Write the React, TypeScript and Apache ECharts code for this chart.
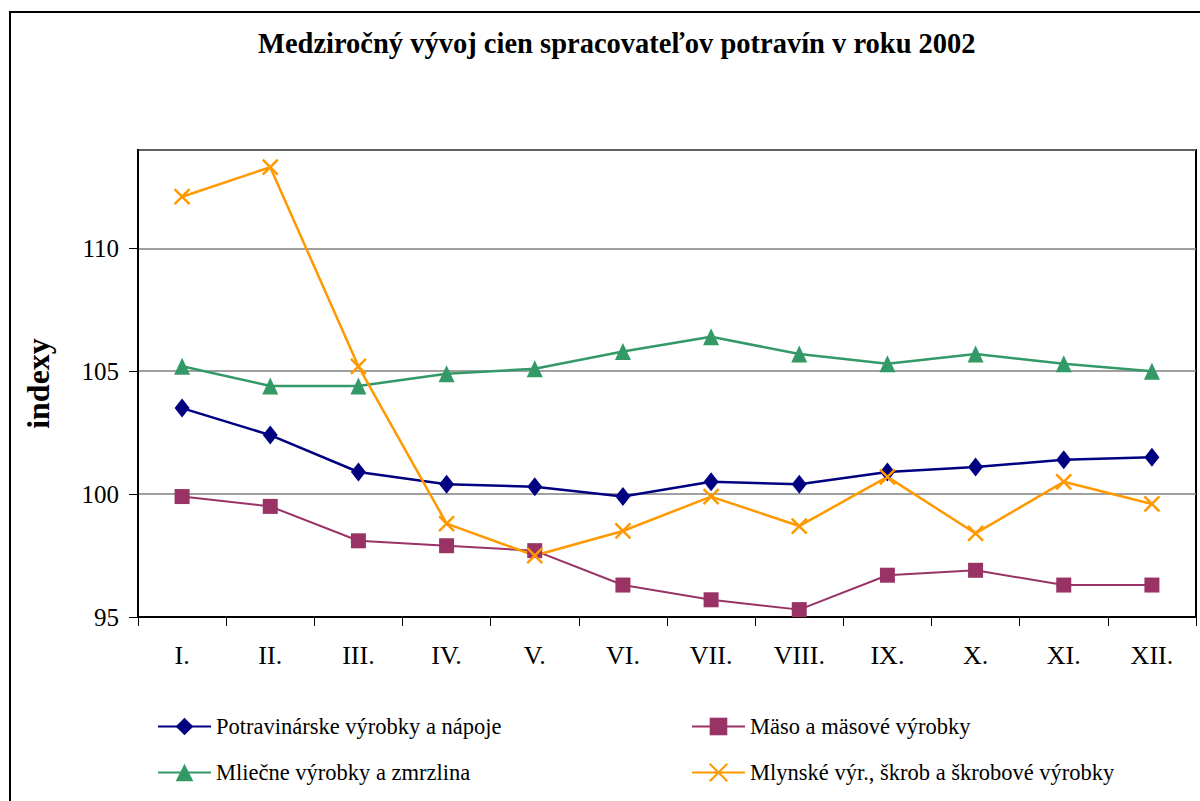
import React, { useEffect, useRef } from "react";
import * as echarts from "echarts";

const title = "Medziročný vývoj cien spracovateľov potravín v roku 2002";
const yAxisName = "indexy";
const months = ["I.", "II.", "III.", "IV.", "V.", "VI.", "VII.", "VIII.", "IX.", "X.", "XI.", "XII."];

const seriesNames = [
  "Potravinárske výrobky a nápoje",
  "Mäso a mäsové výrobky",
  "Mliečne výrobky a zmrzlina",
  "Mlynské výr., škrob a škrobové výrobky",
];

const potravinarske = [103.5, 102.4, 100.9, 100.4, 100.3, 99.9, 100.5, 100.4, 100.9, 101.1, 101.4, 101.5];
const maso = [99.9, 99.5, 98.1, 97.9, 97.7, 96.3, 95.7, 95.3, 96.7, 96.9, 96.3, 96.3];
const mliecne = [105.2, 104.4, 104.4, 104.9, 105.1, 105.8, 106.4, 105.7, 105.3, 105.7, 105.3, 105.0];
const mlynske = [112.1, 113.3, 105.2, 98.8, 97.5, 98.5, 99.9, 98.7, 100.7, 98.4, 100.5, 99.6];

const yMin = 95;
const yMax = 114;
const yInterval = 5;

const FONT = "Liberation Serif";
const colors = ["#000080", "#993366", "#339966", "#FF9900"];

export default function App() {
  const ref = useRef<HTMLDivElement>(null);

  useEffect(() => {
    document.body.style.margin = "0";
    const chart = echarts.init(ref.current!, null, { renderer: "svg" });
    const xSymbol = "path://M0,0L10,10M10,0L0,10";

    const mk = (name: string, data: number[], color: string, symbol: string, size: any, lw: number, extra: any = {}) => ({
      name,
      type: "line",
      data,
      symbol,
      symbolSize: size,
      showSymbol: true,
      lineStyle: { color, width: lw },
      itemStyle: { color, borderColor: color, borderWidth: 0, ...extra },
      emphasis: { disabled: true },
      z: 3,
    });

    const legendPos = [
      { left: 157, top: 715 },
      { left: 691, top: 715 },
      { left: 157, top: 761 },
      { left: 691, top: 761 },
    ];

    chart.setOption({
      animation: false,
      textStyle: { fontFamily: FONT },
      title: {
        text: title,
        left: 253,
        top: 24,
        textStyle: { fontFamily: FONT, fontSize: 28.5, fontWeight: "bold", color: "#000" },
      },
      graphic: [
        {
          type: "rect",
          shape: { x: 10, y: 12, width: 1400, height: 1000 },
          style: { fill: "none", stroke: "#000", lineWidth: 2 },
          silent: true,
        },
      ],
      legend: seriesNames.map((n, i) => ({
        data: [n],
        left: legendPos[i].left,
        top: legendPos[i].top,
        orient: "horizontal",
        padding: 0,
        itemWidth: 53,
        itemHeight: 22,
        itemGap: 5,
        selectedMode: false,
        textStyle: { fontFamily: FONT, fontSize: 22.5, color: "#000" },
      })),
      grid: {
        left: 138,
        right: 4,
        top: 150,
        bottom: 184,
        show: true,
        borderColor: "#000",
        borderWidth: 2,
        backgroundColor: "transparent",
      },
      xAxis: {
        type: "category",
        data: months,
        boundaryGap: true,
        axisLine: { show: true, lineStyle: { color: "#000", width: 2 } },
        axisTick: { show: true, length: 9, lineStyle: { color: "#000", width: 1 } },
        axisLabel: { fontFamily: FONT, fontSize: 26, color: "#000", margin: 25 },
        splitLine: { show: false },
      },
      yAxis: {
        type: "value",
        min: yMin,
        max: yMax,
        interval: yInterval,
        name: yAxisName,
        nameLocation: "middle",
        nameGap: 84,
        nameRotate: 90,
        nameTextStyle: { fontFamily: FONT, fontSize: 32, fontWeight: "bold", color: "#000" },
        axisLine: { show: true, lineStyle: { color: "#000", width: 2 } },
        axisTick: { show: true, length: 9, lineStyle: { color: "#000", width: 1 } },
        axisLabel: {
          fontFamily: FONT,
          fontSize: 25,
          color: "#000",
          margin: 19,
          showMaxLabel: false,
          formatter: (v: number) => (v % yInterval === 0 ? String(v) : ""),
        },
        splitLine: { show: true, lineStyle: { color: "#808080", width: 1.5 } },
      },
      series: [
        mk(seriesNames[0], potravinarske, colors[0], "diamond", [15, 19], 2.5),
        mk(seriesNames[1], maso, colors[1], "rect", 15, 2),
        mk(seriesNames[2], mliecne, colors[2], "triangle", [16, 17], 2.5),
        mk(seriesNames[3], mlynske, colors[3], xSymbol, 15, 2.5, { borderWidth: 2.5, color: "rgba(0,0,0,0)" }),
      ],
    });
    return () => chart.dispose();
  }, []);

  return (
    <div
      ref={ref}
      style={{ position: "fixed", left: 0, top: 0, width: 1200, height: 801, background: "#fff" }}
    />
  );
}
